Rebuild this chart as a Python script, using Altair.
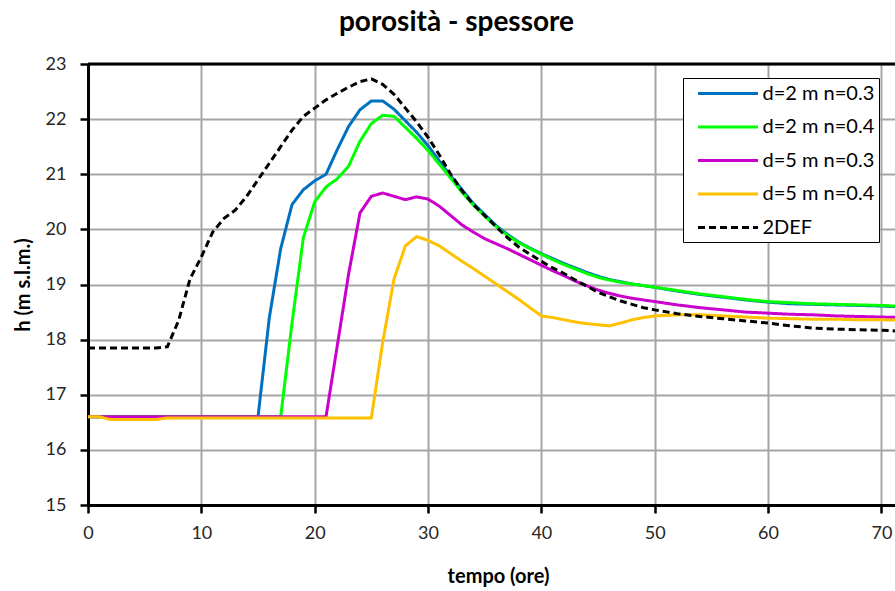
import altair as alt
import pandas as pd

# ---------------- data ----------------
time_h = [0, 1, 2, 3, 4, 5, 6, 7, 8, 9,
          10, 11, 12, 13, 14, 15, 16, 17, 18, 19,
          20, 21, 22, 23, 24, 25, 26, 27, 28, 29,
          30, 31, 32, 33, 34, 35, 36, 37, 38, 39,
          40, 41, 42, 43, 44, 45, 46, 47, 48, 49,
          50, 52, 54, 56, 58, 60, 62, 64, 66, 68, 70, 72]

d2_n03 = [16.6, 16.6, 16.6, 16.6, 16.6, 16.6, 16.6, 16.6, 16.6, 16.6,
          16.6, 16.6, 16.6, 16.6, 16.6, 16.6, 18.4, 19.65, 20.45, 20.72,
          20.88, 21.0, 21.45, 21.87, 22.17, 22.33, 22.33, 22.18, 21.97, 21.76,
          21.52, 21.24, 20.97, 20.72, 20.47, 20.27, 20.07, 19.91, 19.77, 19.66,
          19.56, 19.47, 19.38, 19.3, 19.22, 19.15, 19.09, 19.05, 19.01, 18.98,
          18.95, 18.88, 18.82, 18.77, 18.72, 18.68, 18.65, 18.64, 18.63, 18.62, 18.61, 18.59]

d2_n04 = [16.6, 16.6, 16.6, 16.6, 16.6, 16.6, 16.6, 16.6, 16.6, 16.6,
          16.6, 16.6, 16.6, 16.6, 16.6, 16.6, 16.6, 16.6, 18.3, 19.85,
          20.5, 20.77, 20.92, 21.15, 21.6, 21.92, 22.07, 22.05, 21.85, 21.65,
          21.43, 21.18, 20.93, 20.67, 20.44, 20.24, 20.05, 19.89, 19.76, 19.65,
          19.55, 19.45, 19.36, 19.28, 19.2, 19.13, 19.08, 19.04, 19.01, 18.98,
          18.95, 18.89, 18.83, 18.78, 18.73, 18.69, 18.67, 18.65, 18.64, 18.63, 18.62, 18.6]

d5_n03 = [16.6, 16.6, 16.6, 16.6, 16.6, 16.6, 16.6, 16.6, 16.6, 16.6,
          16.6, 16.6, 16.6, 16.6, 16.6, 16.6, 16.6, 16.6, 16.6, 16.6,
          16.6, 16.6, 17.9, 19.2, 20.3, 20.6, 20.66, 20.6, 20.54, 20.59,
          20.55, 20.42, 20.25, 20.08, 19.95, 19.83, 19.74, 19.65, 19.55, 19.45,
          19.35, 19.25, 19.16, 19.06, 18.98, 18.9, 18.84, 18.79, 18.75, 18.72,
          18.69, 18.63, 18.58, 18.54, 18.5, 18.48, 18.46, 18.45, 18.43, 18.42, 18.41, 18.4]

d5_n04 = [16.6, 16.6, 16.55, 16.55, 16.55, 16.55, 16.55, 16.58, 16.58, 16.58,
          16.58, 16.58, 16.58, 16.58, 16.58, 16.58, 16.58, 16.58, 16.58, 16.58,
          16.58, 16.58, 16.58, 16.58, 16.58, 16.58, 17.95, 19.1, 19.7, 19.87,
          19.8, 19.7, 19.56, 19.42, 19.29, 19.15, 19.01, 18.87, 18.73, 18.58,
          18.43, 18.4, 18.36, 18.32, 18.29, 18.27, 18.25, 18.3, 18.36, 18.4,
          18.43, 18.45, 18.45, 18.43, 18.41, 18.39, 18.38, 18.37, 18.37, 18.36, 18.36, 18.35]

def2 = [17.85, 17.85, 17.85, 17.85, 17.85, 17.85, 17.85, 17.87, 18.35, 19.1,
        19.5, 19.95, 20.2, 20.35, 20.6, 20.9, 21.2, 21.5, 21.8, 22.05,
        22.2, 22.35, 22.47, 22.58, 22.68, 22.73, 22.63, 22.45, 22.2, 21.95,
        21.67, 21.35, 21.0, 20.7, 20.45, 20.25, 20.05, 19.85, 19.68, 19.55,
        19.42, 19.3, 19.2, 19.08, 18.97, 18.86, 18.78, 18.7, 18.64, 18.58,
        18.54, 18.47, 18.42, 18.38, 18.34, 18.3, 18.25, 18.21, 18.19, 18.18, 18.17, 18.15]

series_names = ["d=2 m n=0.3", "d=2 m n=0.4", "d=5 m n=0.3", "d=5 m n=0.4", "2DEF"]
series_values = [d2_n03, d2_n04, d5_n03, d5_n04, def2]
series_colors = ["#0070C0", "#00FF00", "#CC00CC", "#FFC000", "#000000"]
series_dash = [[1, 0], [1, 0], [1, 0], [1, 0], [7, 4]]

x_ticks = [0, 10, 20, 30, 40, 50, 60, 70]
y_ticks = [15, 16, 17, 18, 19, 20, 21, 22, 23]

rows = []
for name, vals in zip(series_names, series_values):
    for t, v in zip(time_h, vals):
        rows.append({"tempo": t, "h": v, "serie": name})
df = pd.DataFrame(rows)

FONT = "Lato"

x_enc = alt.X(
    "tempo:Q",
    scale=alt.Scale(domain=[0, 71.2], nice=False, zero=False),
    axis=alt.Axis(
        values=x_ticks, title="tempo (ore)", format="d", labelFlush=False,
        labelFont=FONT, labelFontSize=18, labelColor="#262626", labelPadding=11,
        tickSize=8, tickWidth=2.5, tickColor="black",
        domainColor="black", domainWidth=3,
        grid=True, gridColor="#a6a6a6", gridWidth=2,
        titleFont=FONT, titleFontSize=20, titleFontWeight="bold", titleColor="black",
        titleX=410, titleY=77, titleAlign="center", titleBaseline="alphabetic",
    ),
)
y_enc = alt.Y(
    "h:Q",
    scale=alt.Scale(domain=[15, 23], nice=False, zero=False),
    axis=alt.Axis(
        values=y_ticks, title="h (m s.l.m.)", format="d", labelFlush=False,
        labelFont=FONT, labelFontSize=18, labelColor="#262626", labelPadding=14,
        tickSize=8, tickWidth=2.5, tickColor="black",
        domainColor="black", domainWidth=3,
        grid=True, gridColor="#a6a6a6", gridWidth=2,
        titleFont=FONT, titleFontSize=20, titleFontWeight="bold", titleColor="black",
        titleX=-59, titleY=220.5, titleAlign="center", titleBaseline="alphabetic",
    ),
)

legend = alt.Legend(
    title=None, orient="none", legendX=595, legendY=14,
    symbolType="M-3,0H3", symbolSize=400, symbolStrokeWidth=3,
    symbolOffset=29.5,
    labelFont=FONT, labelFontSize=20, labelColor="black", labelOffset=23,
    labelExpr="datum.label + '   '",
    strokeColor="black", fillColor="white", padding=4, rowPadding=11.5,
)

lines = alt.Chart(df).mark_line(strokeWidth=3, clip=True, strokeJoin="round").encode(
    x=x_enc,
    y=y_enc,
    color=alt.Color("serie:N", sort=series_names,
                    scale=alt.Scale(domain=series_names, range=series_colors),
                    legend=legend),
    strokeDash=alt.StrokeDash("serie:N", sort=series_names,
                              scale=alt.Scale(domain=series_names, range=series_dash),
                              legend=legend),
    order=alt.Order("tempo:Q"),
)

top_border = alt.Chart(pd.DataFrame({"h": [23]})).mark_rule(
    color="black", strokeWidth=3
).encode(y="h:Q")

chart = alt.layer(lines, top_border).properties(
    width=807, height=441,
    autosize=alt.AutoSizeParams(type="none"),
    padding={"left": 88, "top": 64, "right": 0, "bottom": 86},
    title=alt.TitleParams(
        "porosità - spessore", font=FONT, fontSize=28, fontWeight="bold",
        color="black", anchor="middle", dx=-35, offset=18,
    ),
    background="white",
).configure_view(stroke=None)

chart.save("out.html", embed_options={"renderer": "svg", "actions": False})
